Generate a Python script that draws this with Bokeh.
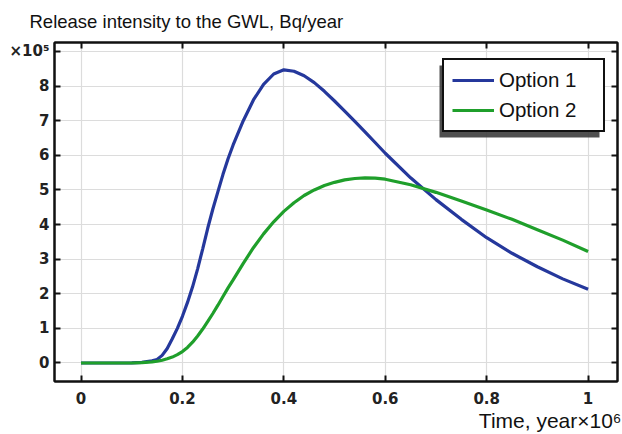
from bokeh.plotting import figure
from bokeh.models import (Range1d, LinearAxis, Legend, LegendItem, Title, FixedTicker,
                          CustomLabelingPolicy, BoxAnnotation)
from bokeh.embed import file_html
from bokeh.resources import INLINE

# time in 1e6 years, release intensity in 1e5 Bq/year
time = [0, 0.05, 0.1, 0.12, 0.14,
        0.15, 0.16, 0.17, 0.18, 0.19, 0.2, 0.21, 0.22, 0.23, 0.24, 0.25, 0.26, 0.27, 0.28, 0.29, 0.3,
        0.32, 0.34, 0.36, 0.38, 0.4, 0.42, 0.44, 0.46, 0.48, 0.5, 0.52, 0.54, 0.56, 0.58, 0.6,
        0.65, 0.7, 0.75, 0.8, 0.85, 0.9, 0.95, 1.0]
option1 = [0, 0, 0.005, 0.02, 0.06,
           0.1, 0.22, 0.42, 0.7, 1.0, 1.35, 1.75, 2.2, 2.72, 3.3, 3.9, 4.45, 4.95, 5.45, 5.9, 6.3,
           7.0, 7.6, 8.05, 8.35, 8.47, 8.43, 8.3, 8.1, 7.85, 7.57, 7.28, 6.98, 6.68, 6.37, 6.06,
           5.35, 4.72, 4.15, 3.62, 3.17, 2.78, 2.43, 2.13]
option2 = [0, 0, 0, 0.01, 0.03,
           0.05, 0.08, 0.12, 0.17, 0.24, 0.33, 0.45, 0.6, 0.78, 0.98, 1.2, 1.43, 1.67, 1.92, 2.17, 2.4,
           2.88, 3.33, 3.73, 4.08, 4.38, 4.63, 4.84, 5.0, 5.13, 5.22, 5.29, 5.33, 5.35, 5.34, 5.31,
           5.15, 4.93, 4.68, 4.42, 4.15, 3.85, 3.55, 3.22]
x_ticks = [0, 0.2, 0.4, 0.6, 0.8, 1.0]
x_tick_labels = {0: "0", 0.2: "0.2", 0.4: "0.4", 0.6: "0.6", 0.8: "0.8", 1: "1"}
y_ticks = [0, 1, 2, 3, 4, 5, 6, 7, 8, 9]
y_tick_labels = {9: "\u00d710\u2075"}
series_names = ["Option 1", "Option 2"]

TICK_FONT = "DejaVu Sans"
TXT_FONT = "Liberation Sans"

p = figure(width=622, height=434, output_backend="svg", toolbar_location=None,
           x_range=Range1d(-0.0523, 1.058), y_range=Range1d(-0.535, 9.26),
           min_border_left=54, min_border_right=5, min_border_top=42, min_border_bottom=53,
           x_axis_location=None, y_axis_location=None)

p.outline_line_color = "#111111"
p.outline_line_width = 2
p.outline_line_alpha = 1.0
p.background_fill_color = "white"
p.border_fill_color = "white"

hide_all = CustomLabelingPolicy(code="for (const i of indices) indices.unset(i)")

def style_axis(ax, labels=True):
    ax.axis_line_color = "#111111"
    ax.axis_line_width = 2
    ax.major_tick_in = 6
    ax.major_tick_out = 0
    ax.major_tick_line_color = "#111111"
    ax.major_tick_line_width = 2
    ax.minor_tick_line_color = None
    ax.major_label_text_font = TICK_FONT
    ax.major_label_text_font_style = "bold"
    ax.major_label_text_font_size = "15px" if labels else "1px"
    ax.major_label_text_color = "#222222"
    if not labels:
        ax.major_label_policy = hide_all
        ax.major_label_standoff = 0

xb = LinearAxis(ticker=FixedTicker(ticks=x_ticks), major_label_overrides=x_tick_labels)
style_axis(xb)
xb.major_label_standoff = 10
p.add_layout(xb, "below")
yl = LinearAxis(ticker=FixedTicker(ticks=y_ticks), major_label_overrides=y_tick_labels)
style_axis(yl)
yl.major_label_standoff = 5
p.add_layout(yl, "left")
xt = LinearAxis(ticker=FixedTicker(ticks=x_ticks))
style_axis(xt, labels=False)
p.add_layout(xt, "above")
yr = LinearAxis(ticker=FixedTicker(ticks=y_ticks))
style_axis(yr, labels=False)
p.add_layout(yr, "right")

p.xgrid.ticker = FixedTicker(ticks=x_ticks)
p.ygrid.ticker = FixedTicker(ticks=y_ticks)
p.xgrid.grid_line_color = "#dcdcdc"
p.ygrid.grid_line_color = "#dcdcdc"
p.xgrid.grid_line_width = 1.2
p.ygrid.grid_line_width = 1.2

p.title.text = "Release intensity to the GWL, Bq/year"
p.title.align = "left"
p.title.vertical_align = "top"
p.title.offset = -25
p.title.text_font = TXT_FONT
p.title.text_font_size = "18.5px"
p.title.text_font_style = "normal"
p.title.text_color = "#111111"

xlabel = Title(text="Time, year\u00d710\u2076", align="right", text_font=TXT_FONT,
               text_font_size="21px", text_font_style="normal", text_color="#111111",
               offset=-4, standoff=0)
p.add_layout(xlabel, "below")

r1 = p.line(time, option1, line_color="#25389c", line_width=3.2)
r2 = p.line(time, option2, line_color="#1f9f2b", line_width=3.2)

# drop shadow behind the legend box
p.add_layout(BoxAnnotation(left=439, right=599, top=65, bottom=137,
                           left_units="canvas", right_units="canvas",
                           top_units="canvas", bottom_units="canvas",
                           fill_color="#3c3c3c", fill_alpha=0.9, line_color=None,
                           level="annotation"))

legend = Legend(items=[LegendItem(label=series_names[0], renderers=[r1]),
                       LegendItem(label=series_names[1], renderers=[r2])],
                location=(388, 249), label_text_font=TXT_FONT, label_text_font_size="20.5px",
                label_text_color="#111111", border_line_color="#111111", border_line_width=2,
                border_line_alpha=1.0, background_fill_alpha=1.0,
                glyph_width=42, glyph_height=22, label_height=22, label_width=96,
                label_standoff=5, spacing=6, padding=8, margin=0)
p.add_layout(legend, "center")

open("out.html", "w").write(file_html(p, INLINE))
